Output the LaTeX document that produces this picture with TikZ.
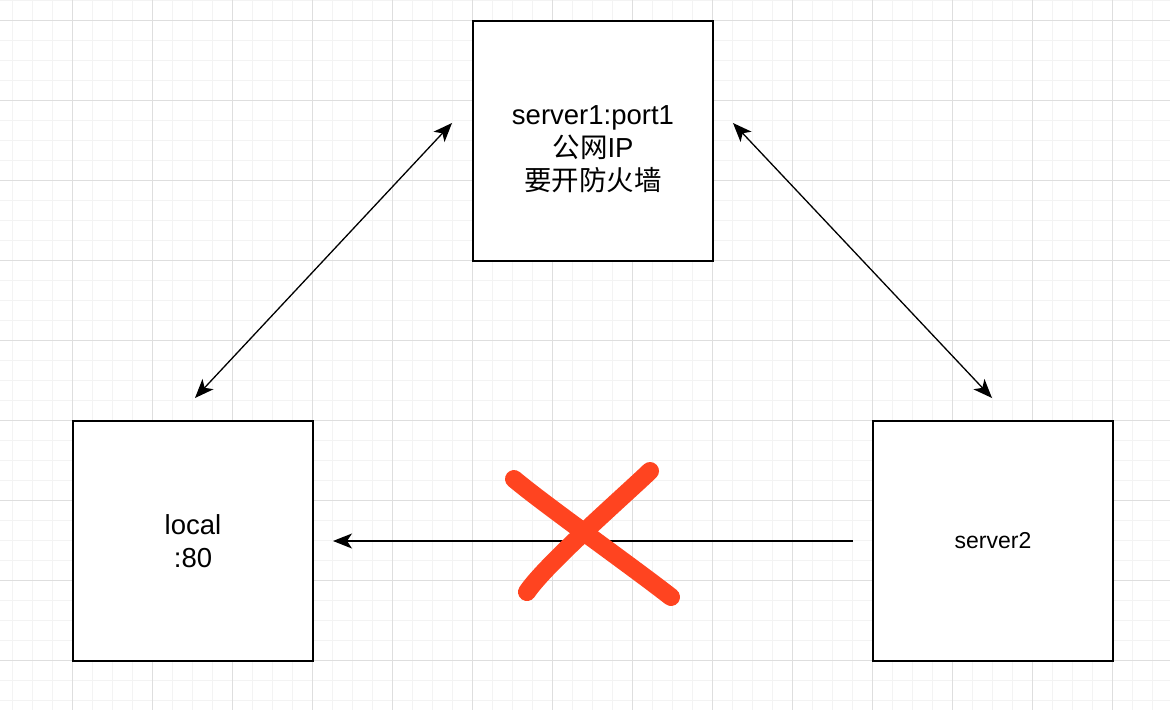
\documentclass[tikz,border=0pt]{standalone}
\usepackage{fontspec}
\setmainfont{Liberation Sans}
\newfontfamily\cjk{Noto Sans CJK SC}
\usetikzlibrary{arrows.meta}
\definecolor{gridminor}{HTML}{F3F3F3}
\definecolor{gridmajor}{HTML}{DEDEDE}
\definecolor{xred}{HTML}{FF4420}
\tikzset{
  boxnode/.style={draw=black, line width=1.4pt, minimum width=240pt, minimum height=240pt, inner sep=0pt, align=center, fill=white},
  tip/.tip={Stealth[length=19pt,width=15pt,inset=5pt]},
  conn/.style={line width=1.3pt, -tip},
  conn2/.style={line width=1.3pt, tip-tip},
  crossline/.style={draw=xred, line width=18pt, line cap=round},
  bigtext/.style={font=\fontsize{27.5}{33}\selectfont, align=center, inner sep=0pt},
  smalltext/.style={font=\fontsize{23}{28}\selectfont}
}
\begin{document}
\begin{tikzpicture}[x=1pt,y=-1pt]
\useasboundingbox (0,0) rectangle (1170,710);
\fill[white] (0,0) rectangle (1170,710);
% minor grid
\foreach \xx in {12,32,...,1170} \draw[gridminor, line width=1pt] (\xx,0) -- (\xx,710);
\foreach \yy in {0,20,...,710} \draw[gridminor, line width=1pt] (0,\yy) -- (1170,\yy);
% major grid
\foreach \xx in {72,152,...,1170} \draw[gridmajor, line width=1pt] (\xx,0) -- (\xx,710);
\foreach \yy in {20,100,...,710} \draw[gridmajor, line width=1pt] (0,\yy) -- (1170,\yy);

\node[boxnode] (top) at (593,141) {};
\node[bigtext] (toptext) at (593,149) {server1:port1\\{\cjk 公网}IP\\{\cjk 要开防火墙}};
\node[boxnode, bigtext, minimum width=240pt, minimum height=240pt, draw=black, line width=1.4pt, fill=white] (local) at (193,541) {local\\:80};
\node[boxnode, smalltext] (srv2) at (993,541) {server2};

\coordinate (a1) at (195,398);
\coordinate (a2) at (452,123);
\coordinate (b1) at (733,123);
\coordinate (b2) at (992,398);
\coordinate (c1) at (853,541);
\coordinate (c2) at (333,541);

\draw[conn2] (a1) -- (a2);
\draw[conn2] (b1) -- (b2);
\draw[conn] (c1) -- (c2);

\coordinate (x1) at (514,479);
\coordinate (x2) at (671,597);
\coordinate (x3) at (650,471);
\coordinate (x4) at (527,592);
\draw[crossline] (x1) .. controls (545,505) and (630,565) .. (x2);
\draw[crossline] (x3) .. controls (625,495) and (545,565) .. (x4);
\end{tikzpicture}
\end{document}
